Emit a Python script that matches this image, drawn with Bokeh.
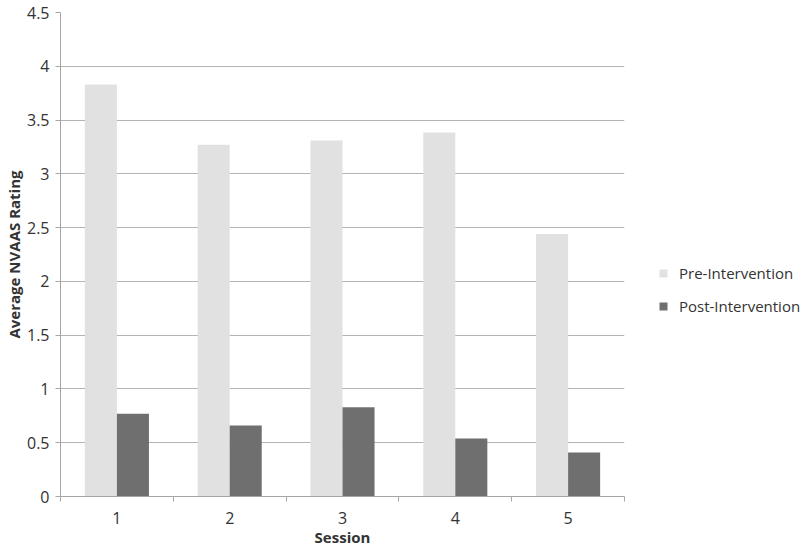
from bokeh.plotting import figure
from bokeh.models import ColumnDataSource, FixedTicker, Range1d, Legend, LegendItem
from bokeh.embed import file_html
from bokeh.resources import INLINE

sessions = [1, 2, 3, 4, 5]
session_labels = ["1", "2", "3", "4", "5"]
pre_intervention = [3.83, 3.27, 3.31, 3.385, 2.44]
post_intervention = [0.77, 0.66, 0.83, 0.54, 0.41]
y_ticks = [0, 0.5, 1, 1.5, 2, 2.5, 3, 3.5, 4, 4.5]
boundaries = [s - 0.5 for s in sessions] + [sessions[-1] + 0.5]

bar_w = 0.284
src = ColumnDataSource(dict(
    pre_x=[s - bar_w / 2 for s in sessions],
    post_x=[s + bar_w / 2 for s in sessions],
    pre=pre_intervention,
    post=post_intervention,
))

FONT = "Open Sans"
TXT = "#333333"

p = figure(frame_width=564, frame_height=484, output_backend="svg", toolbar_location=None,
           x_range=Range1d(0.5, 5.5), y_range=Range1d(0, 4.5),
           min_border_left=54, min_border_right=166, min_border_top=12, min_border_bottom=47)
p.outline_line_color = None
p.background_fill_color = "white"
p.border_fill_color = "white"

r_pre = p.vbar(x="pre_x", top="pre", width=bar_w, source=src, fill_color="#e1e1e1", line_color=None)
r_post = p.vbar(x="post_x", top="post", width=bar_w, source=src, fill_color="#6f6f6f", line_color=None)

# x axis
p.xaxis.ticker = FixedTicker(ticks=sessions, minor_ticks=boundaries)
p.xaxis.major_label_overrides = {s: l for s, l in zip(sessions, session_labels)}
p.xaxis.major_tick_out = 0
p.xaxis.major_tick_in = 0
p.xaxis.minor_tick_out = 5
p.xaxis.minor_tick_in = 0
p.xaxis.minor_tick_line_color = "#a6a6a6"
p.xaxis.axis_line_color = "#a6a6a6"
p.xaxis.major_label_text_font = FONT
p.xaxis.major_label_text_font_size = "16px"
p.xaxis.major_label_text_color = TXT
p.xaxis.major_label_standoff = 10
p.xaxis.axis_label = "Session"
p.xaxis.axis_label_text_font = FONT
p.xaxis.axis_label_text_font_style = "bold"
p.xaxis.axis_label_text_font_size = "15px"
p.xaxis.axis_label_text_color = TXT
p.xaxis.axis_label_standoff = 0

# y axis
p.yaxis.ticker = FixedTicker(ticks=y_ticks)
p.yaxis.major_tick_out = 5
p.yaxis.major_tick_in = 0
p.yaxis.minor_tick_line_color = None
p.yaxis.major_tick_line_color = "#a6a6a6"
p.yaxis.axis_line_color = "#a6a6a6"
p.yaxis.major_label_text_font = FONT
p.yaxis.major_label_text_font_size = "16px"
p.yaxis.major_label_text_color = TXT
p.yaxis.major_label_standoff = 6
p.yaxis.axis_label = "Average NVAAS Rating"
p.yaxis.axis_label_text_font = FONT
p.yaxis.axis_label_text_font_style = "bold"
p.yaxis.axis_label_text_font_size = "15px"
p.yaxis.axis_label_text_color = TXT
p.yaxis.axis_label_standoff = 0

p.xgrid.grid_line_color = None
p.ygrid.ticker = FixedTicker(ticks=y_ticks)
p.ygrid.grid_line_color = "#b3b3b3"
p.ygrid.grid_line_width = 1

legend = Legend(items=[LegendItem(label="Pre-Intervention", renderers=[r_pre]),
                       LegendItem(label="Post-Intervention", renderers=[r_post])],
                location=(34, 180))
legend.border_line_color = None
legend.background_fill_alpha = 0
legend.padding = 0
legend.margin = 0
legend.glyph_width = 10
legend.glyph_height = 10
legend.label_height = 20
legend.spacing = 13
legend.label_standoff = 11
legend.label_text_font = FONT
legend.label_text_font_size = "15px"
legend.label_text_color = TXT
p.add_layout(legend, "right")

open("out.html", "w").write(file_html(p, INLINE))
